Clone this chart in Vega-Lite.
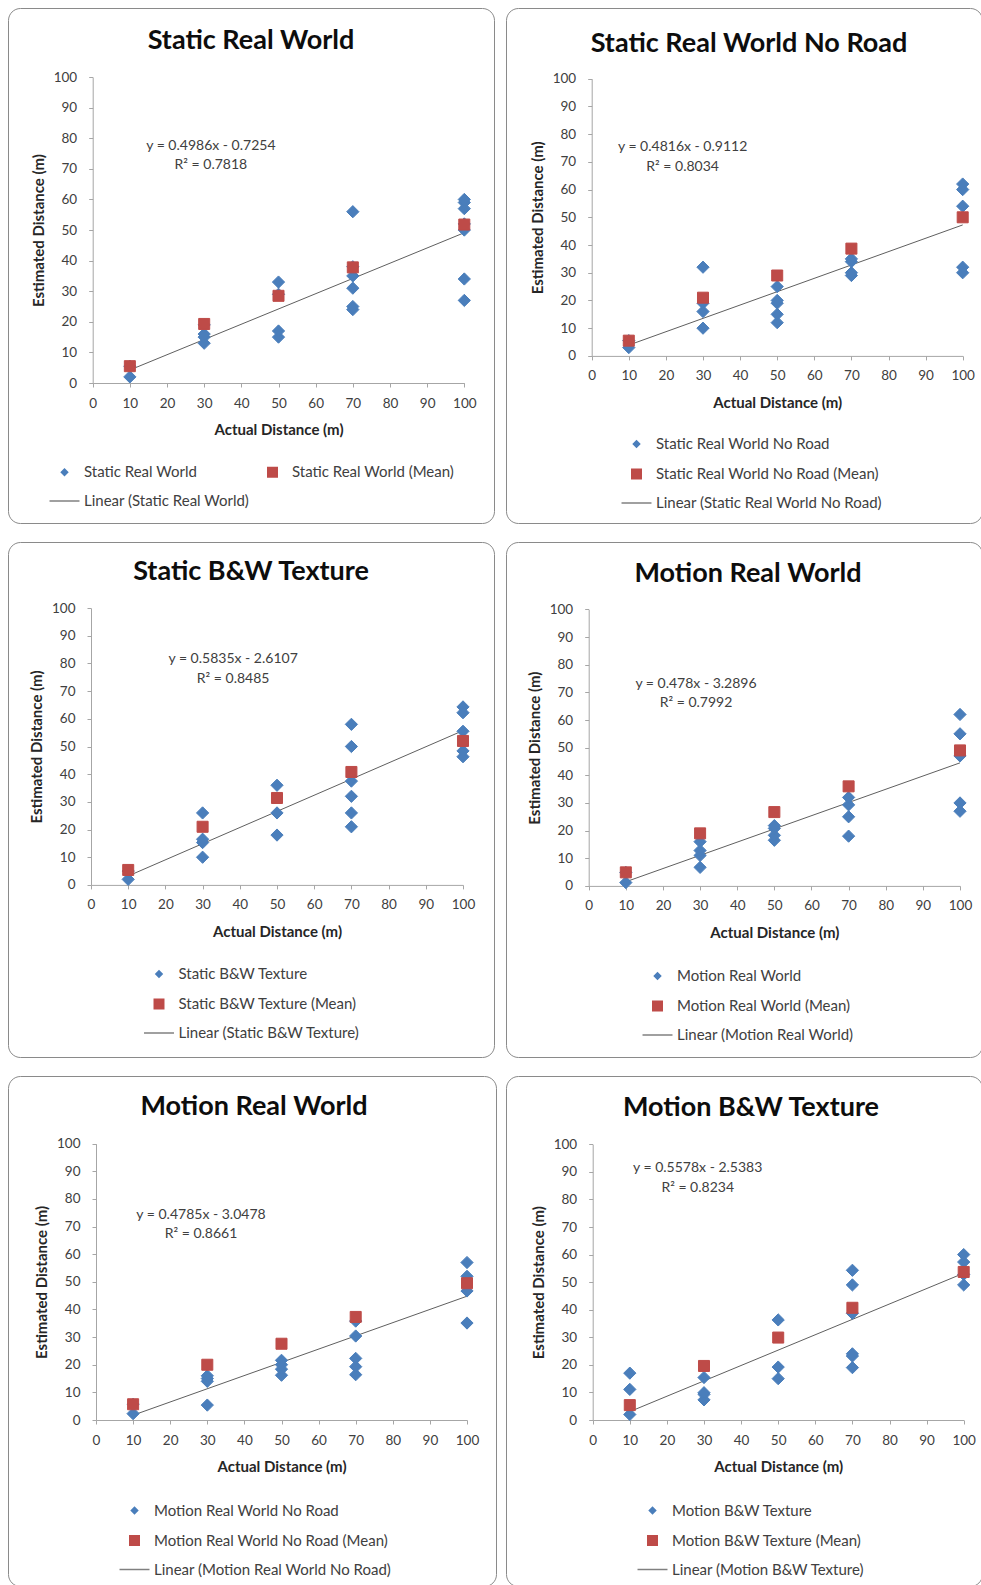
{
"$schema": "https://vega.github.io/schema/vega-lite/v6.json",
"background": "white",
"padding": {"left": 7, "top": 7, "right": 0, "bottom": 0},
"datasets": {
"o1": [{"x":10,"y":2,"s":"Static Real World"},{"x":10,"y":5.5,"s":"Static Real World"},{"x":30,"y":13,"s":"Static Real World"},{"x":30,"y":15,"s":"Static Real World"},{"x":30,"y":16,"s":"Static Real World"},{"x":30,"y":19,"s":"Static Real World"},{"x":50,"y":15,"s":"Static Real World"},{"x":50,"y":17,"s":"Static Real World"},{"x":50,"y":29,"s":"Static Real World"},{"x":50,"y":33,"s":"Static Real World"},{"x":70,"y":24,"s":"Static Real World"},{"x":70,"y":25,"s":"Static Real World"},{"x":70,"y":31,"s":"Static Real World"},{"x":70,"y":35,"s":"Static Real World"},{"x":70,"y":38,"s":"Static Real World"},{"x":70,"y":56,"s":"Static Real World"},{"x":100,"y":27,"s":"Static Real World"},{"x":100,"y":34,"s":"Static Real World"},{"x":100,"y":50,"s":"Static Real World"},{"x":100,"y":52,"s":"Static Real World"},{"x":100,"y":57,"s":"Static Real World"},{"x":100,"y":59,"s":"Static Real World"},{"x":100,"y":60,"s":"Static Real World"}],
"m1": [{"x":10,"y":5.5,"s":"Static Real World (Mean)"},{"x":30,"y":19.3,"s":"Static Real World (Mean)"},{"x":50,"y":28.5,"s":"Static Real World (Mean)"},{"x":70,"y":37.8,"s":"Static Real World (Mean)"},{"x":100,"y":51.8,"s":"Static Real World (Mean)"}],
"t1": [{"x":10,"y":4.26},{"x":100,"y":49.13}],
"e1": [{"x":31.8,"y":77.6,"t":"y = 0.4986x - 0.7254"},{"x":31.8,"y":71.3,"t":"R² = 0.7818"}],
"o2": [{"x":10,"y":3,"s":"Static Real World No Road"},{"x":10,"y":5.5,"s":"Static Real World No Road"},{"x":30,"y":10,"s":"Static Real World No Road"},{"x":30,"y":16,"s":"Static Real World No Road"},{"x":30,"y":19,"s":"Static Real World No Road"},{"x":30,"y":32,"s":"Static Real World No Road"},{"x":50,"y":12,"s":"Static Real World No Road"},{"x":50,"y":15,"s":"Static Real World No Road"},{"x":50,"y":19,"s":"Static Real World No Road"},{"x":50,"y":20,"s":"Static Real World No Road"},{"x":50,"y":25,"s":"Static Real World No Road"},{"x":70,"y":29,"s":"Static Real World No Road"},{"x":70,"y":30,"s":"Static Real World No Road"},{"x":70,"y":34,"s":"Static Real World No Road"},{"x":70,"y":35,"s":"Static Real World No Road"},{"x":100,"y":30,"s":"Static Real World No Road"},{"x":100,"y":32,"s":"Static Real World No Road"},{"x":100,"y":54,"s":"Static Real World No Road"},{"x":100,"y":60,"s":"Static Real World No Road"},{"x":100,"y":62,"s":"Static Real World No Road"}],
"m2": [{"x":10,"y":5.5,"s":"Static Real World No Road (Mean)"},{"x":30,"y":21,"s":"Static Real World No Road (Mean)"},{"x":50,"y":29,"s":"Static Real World No Road (Mean)"},{"x":70,"y":38.7,"s":"Static Real World No Road (Mean)"},{"x":100,"y":50,"s":"Static Real World No Road (Mean)"}],
"t2": [{"x":10,"y":3.9},{"x":100,"y":47.25}],
"e2": [{"x":24.5,"y":75.2,"t":"y = 0.4816x - 0.9112"},{"x":24.5,"y":68.3,"t":"R² = 0.8034"}],
"o3": [{"x":10,"y":2,"s":"Static B&W Texture"},{"x":10,"y":5,"s":"Static B&W Texture"},{"x":30,"y":10,"s":"Static B&W Texture"},{"x":30,"y":15.3,"s":"Static B&W Texture"},{"x":30,"y":16.5,"s":"Static B&W Texture"},{"x":30,"y":26,"s":"Static B&W Texture"},{"x":50,"y":18,"s":"Static B&W Texture"},{"x":50,"y":26,"s":"Static B&W Texture"},{"x":50,"y":36,"s":"Static B&W Texture"},{"x":70,"y":21,"s":"Static B&W Texture"},{"x":70,"y":26,"s":"Static B&W Texture"},{"x":70,"y":32,"s":"Static B&W Texture"},{"x":70,"y":37.5,"s":"Static B&W Texture"},{"x":70,"y":50,"s":"Static B&W Texture"},{"x":70,"y":58,"s":"Static B&W Texture"},{"x":100,"y":46.3,"s":"Static B&W Texture"},{"x":100,"y":48.4,"s":"Static B&W Texture"},{"x":100,"y":55.5,"s":"Static B&W Texture"},{"x":100,"y":62.2,"s":"Static B&W Texture"},{"x":100,"y":64.3,"s":"Static B&W Texture"}],
"m3": [{"x":10,"y":5.4,"s":"Static B&W Texture (Mean)"},{"x":30,"y":21,"s":"Static B&W Texture (Mean)"},{"x":50,"y":31.4,"s":"Static B&W Texture (Mean)"},{"x":70,"y":40.8,"s":"Static B&W Texture (Mean)"},{"x":100,"y":52,"s":"Static B&W Texture (Mean)"}],
"t3": [{"x":10,"y":3.22},{"x":100,"y":55.74}],
"e3": [{"x":38.2,"y":81.5,"t":"y = 0.5835x - 2.6107"},{"x":38.2,"y":74.5,"t":"R² = 0.8485"}],
"o4": [{"x":10,"y":1.2,"s":"Motion Real World"},{"x":10,"y":4.9,"s":"Motion Real World"},{"x":30,"y":6.7,"s":"Motion Real World"},{"x":30,"y":11,"s":"Motion Real World"},{"x":30,"y":12.8,"s":"Motion Real World"},{"x":30,"y":16,"s":"Motion Real World"},{"x":50,"y":16.5,"s":"Motion Real World"},{"x":50,"y":18.3,"s":"Motion Real World"},{"x":50,"y":20.8,"s":"Motion Real World"},{"x":50,"y":21.8,"s":"Motion Real World"},{"x":70,"y":18,"s":"Motion Real World"},{"x":70,"y":25,"s":"Motion Real World"},{"x":70,"y":29.3,"s":"Motion Real World"},{"x":70,"y":32,"s":"Motion Real World"},{"x":100,"y":27,"s":"Motion Real World"},{"x":100,"y":30,"s":"Motion Real World"},{"x":100,"y":47,"s":"Motion Real World"},{"x":100,"y":55,"s":"Motion Real World"},{"x":100,"y":62,"s":"Motion Real World"}],
"m4": [{"x":10,"y":4.9,"s":"Motion Real World (Mean)"},{"x":30,"y":19,"s":"Motion Real World (Mean)"},{"x":50,"y":26.7,"s":"Motion Real World (Mean)"},{"x":70,"y":36,"s":"Motion Real World (Mean)"},{"x":100,"y":49,"s":"Motion Real World (Mean)"}],
"t4": [{"x":10,"y":1.49},{"x":100,"y":44.51}],
"e4": [{"x":28.9,"y":73.1,"t":"y = 0.478x - 3.2896"},{"x":28.9,"y":66,"t":"R² = 0.7992"}],
"o5": [{"x":10,"y":2.3,"s":"Motion Real World No Road"},{"x":10,"y":5.7,"s":"Motion Real World No Road"},{"x":30,"y":5.4,"s":"Motion Real World No Road"},{"x":30,"y":14,"s":"Motion Real World No Road"},{"x":30,"y":15,"s":"Motion Real World No Road"},{"x":30,"y":16,"s":"Motion Real World No Road"},{"x":50,"y":16.2,"s":"Motion Real World No Road"},{"x":50,"y":18.4,"s":"Motion Real World No Road"},{"x":50,"y":20,"s":"Motion Real World No Road"},{"x":50,"y":21.6,"s":"Motion Real World No Road"},{"x":70,"y":16.4,"s":"Motion Real World No Road"},{"x":70,"y":19.3,"s":"Motion Real World No Road"},{"x":70,"y":22.3,"s":"Motion Real World No Road"},{"x":70,"y":30.4,"s":"Motion Real World No Road"},{"x":70,"y":35.8,"s":"Motion Real World No Road"},{"x":100,"y":35.1,"s":"Motion Real World No Road"},{"x":100,"y":46.7,"s":"Motion Real World No Road"},{"x":100,"y":52,"s":"Motion Real World No Road"},{"x":100,"y":57,"s":"Motion Real World No Road"}],
"m5": [{"x":10,"y":5.7,"s":"Motion Real World No Road (Mean)"},{"x":30,"y":20,"s":"Motion Real World No Road (Mean)"},{"x":50,"y":27.6,"s":"Motion Real World No Road (Mean)"},{"x":70,"y":37.3,"s":"Motion Real World No Road (Mean)"},{"x":100,"y":49.5,"s":"Motion Real World No Road (Mean)"}],
"t5": [{"x":10,"y":1.74},{"x":100,"y":44.8}],
"e5": [{"x":28.3,"y":74.2,"t":"y = 0.4785x - 3.0478"},{"x":28.3,"y":67.2,"t":"R² = 0.8661"}],
"o6": [{"x":10,"y":2,"s":"Motion B&W Texture"},{"x":10,"y":11.1,"s":"Motion B&W Texture"},{"x":10,"y":17,"s":"Motion B&W Texture"},{"x":30,"y":7.3,"s":"Motion B&W Texture"},{"x":30,"y":9.3,"s":"Motion B&W Texture"},{"x":30,"y":9.9,"s":"Motion B&W Texture"},{"x":30,"y":15.4,"s":"Motion B&W Texture"},{"x":50,"y":15,"s":"Motion B&W Texture"},{"x":50,"y":19.2,"s":"Motion B&W Texture"},{"x":50,"y":36.3,"s":"Motion B&W Texture"},{"x":70,"y":19,"s":"Motion B&W Texture"},{"x":70,"y":23.2,"s":"Motion B&W Texture"},{"x":70,"y":24,"s":"Motion B&W Texture"},{"x":70,"y":38.7,"s":"Motion B&W Texture"},{"x":70,"y":49,"s":"Motion B&W Texture"},{"x":70,"y":54.3,"s":"Motion B&W Texture"},{"x":100,"y":49,"s":"Motion B&W Texture"},{"x":100,"y":52.8,"s":"Motion B&W Texture"},{"x":100,"y":57.3,"s":"Motion B&W Texture"},{"x":100,"y":60,"s":"Motion B&W Texture"}],
"m6": [{"x":10,"y":5.4,"s":"Motion B&W Texture (Mean)"},{"x":30,"y":19.6,"s":"Motion B&W Texture (Mean)"},{"x":50,"y":29.9,"s":"Motion B&W Texture (Mean)"},{"x":70,"y":40.7,"s":"Motion B&W Texture (Mean)"},{"x":100,"y":53.7,"s":"Motion B&W Texture (Mean)"}],
"t6": [{"x":10,"y":3.04},{"x":100,"y":53.24}],
"e6": [{"x":28.3,"y":91.3,"t":"y = 0.5578x - 2.5383"},{"x":28.3,"y":84.3,"t":"R² = 0.8234"}]
},
"concat": [
{"width":486,"height":515,
"title":{"text":"Static Real World","offset":-47},
"encoding":{
"x":{"field":"x","type":"quantitative","scale":{"domain":[0,100],"range":[84.7,456.3],"nice":false,"zero":false},"axis":{"values":[0,10,20,30,40,50,60,70,80,90,100],"offset":-140,"title":"Actual Distance (m)"}},
"y":{"field":"y","type":"quantitative","scale":{"domain":[0,100],"range":[375,69.1],"nice":false,"zero":false},"axis":{"values":[0,10,20,30,40,50,60,70,80,90,100],"offset":-84.7,"title":"Estimated Distance (m)"}}},
"layer":[
{"data":{"name":"t1"},"mark":{"type":"line","color":"#5f5f5f","strokeWidth":1}},
{"data":{"name":"o1"},"mark":{"type":"point","filled":true,"opacity":1,"size":150,"strokeWidth":1},"encoding":{
"fill":{"field":"s","type":"nominal","scale":{"domain":["Static Real World","Static Real World (Mean)","Linear (Static Real World)"],"range":["#4a7ebb","#be4b48","#808080"]},"legend":{"orient":"none","legendX":49,"legendY":456.5,"columns":2,"direction":"horizontal","columnPadding":14,"title":null}},
"stroke":{"field":"s","type":"nominal","scale":{"domain":["Static Real World","Static Real World (Mean)","Linear (Static Real World)"],"range":["#4a7ebb","#be4b48","#808080"]},"legend":{"orient":"none","legendX":49,"legendY":456.5,"columns":2,"direction":"horizontal","columnPadding":14,"title":null}},
"shape":{"field":"s","type":"nominal","scale":{"domain":["Static Real World","Static Real World (Mean)","Linear (Static Real World)"],"range":["diamond","M-1.5,-1.5H1.5V1.5H-1.5Z","M-4.74,0H4.74"]},"legend":{"orient":"none","legendX":49,"legendY":456.5,"columns":2,"direction":"horizontal","columnPadding":14,"title":null}}}},
{"data":{"name":"m1"},"mark":{"type":"point","filled":true,"opacity":1,"size":54,"strokeWidth":1},"encoding":{
"fill":{"field":"s","type":"nominal","scale":{"domain":["Static Real World","Static Real World (Mean)","Linear (Static Real World)"],"range":["#4a7ebb","#be4b48","#808080"]},"legend":{"orient":"none","legendX":49,"legendY":456.5,"columns":2,"direction":"horizontal","columnPadding":14,"title":null}},
"stroke":{"field":"s","type":"nominal","scale":{"domain":["Static Real World","Static Real World (Mean)","Linear (Static Real World)"],"range":["#4a7ebb","#be4b48","#808080"]},"legend":{"orient":"none","legendX":49,"legendY":456.5,"columns":2,"direction":"horizontal","columnPadding":14,"title":null}},
"shape":{"field":"s","type":"nominal","scale":{"domain":["Static Real World","Static Real World (Mean)","Linear (Static Real World)"],"range":["diamond","M-1.5,-1.5H1.5V1.5H-1.5Z","M-4.74,0H4.74"]},"legend":{"orient":"none","legendX":49,"legendY":456.5,"columns":2,"direction":"horizontal","columnPadding":14,"title":null}}}},
{"data":{"name":"e1"},"mark":{"type":"text","fontSize":14,"color":"#404040","baseline":"middle"},"encoding":{"text":{"field":"t"}}}
]},
{"width":476,"height":515,
"title":{"text":"Static Real World No Road","offset":-50,"dx":5},
"encoding":{
"x":{"field":"x","type":"quantitative","scale":{"domain":[0,100],"range":[85.7,456.7],"nice":false,"zero":false},"axis":{"values":[0,10,20,30,40,50,60,70,80,90,100],"offset":-167.1,"title":"Actual Distance (m)"}},
"y":{"field":"y","type":"quantitative","scale":{"domain":[0,100],"range":[347.9,70.7],"nice":false,"zero":false},"axis":{"values":[0,10,20,30,40,50,60,70,80,90,100],"offset":-85.7,"title":"Estimated Distance (m)"}}},
"layer":[
{"data":{"name":"t2"},"mark":{"type":"line","color":"#5f5f5f","strokeWidth":1}},
{"data":{"name":"o2"},"mark":{"type":"point","filled":true,"opacity":1,"size":150,"strokeWidth":1},"encoding":{
"fill":{"field":"s","type":"nominal","scale":{"domain":["Static Real World No Road","Static Real World No Road (Mean)","Linear (Static Real World No Road)"],"range":["#4a7ebb","#be4b48","#808080"]},"legend":{"orient":"none","legendX":123,"legendY":428.5,"columns":1,"title":null}},
"stroke":{"field":"s","type":"nominal","scale":{"domain":["Static Real World No Road","Static Real World No Road (Mean)","Linear (Static Real World No Road)"],"range":["#4a7ebb","#be4b48","#808080"]},"legend":{"orient":"none","legendX":123,"legendY":428.5,"columns":1,"title":null}},
"shape":{"field":"s","type":"nominal","scale":{"domain":["Static Real World No Road","Static Real World No Road (Mean)","Linear (Static Real World No Road)"],"range":["diamond","M-1.5,-1.5H1.5V1.5H-1.5Z","M-4.74,0H4.74"]},"legend":{"orient":"none","legendX":123,"legendY":428.5,"columns":1,"title":null}}}},
{"data":{"name":"m2"},"mark":{"type":"point","filled":true,"opacity":1,"size":54,"strokeWidth":1},"encoding":{
"fill":{"field":"s","type":"nominal","scale":{"domain":["Static Real World No Road","Static Real World No Road (Mean)","Linear (Static Real World No Road)"],"range":["#4a7ebb","#be4b48","#808080"]},"legend":{"orient":"none","legendX":123,"legendY":428.5,"columns":1,"title":null}},
"stroke":{"field":"s","type":"nominal","scale":{"domain":["Static Real World No Road","Static Real World No Road (Mean)","Linear (Static Real World No Road)"],"range":["#4a7ebb","#be4b48","#808080"]},"legend":{"orient":"none","legendX":123,"legendY":428.5,"columns":1,"title":null}},
"shape":{"field":"s","type":"nominal","scale":{"domain":["Static Real World No Road","Static Real World No Road (Mean)","Linear (Static Real World No Road)"],"range":["diamond","M-1.5,-1.5H1.5V1.5H-1.5Z","M-4.74,0H4.74"]},"legend":{"orient":"none","legendX":123,"legendY":428.5,"columns":1,"title":null}}}},
{"data":{"name":"e2"},"mark":{"type":"text","fontSize":14,"color":"#404040","baseline":"middle"},"encoding":{"text":{"field":"t"}}}
]},
{"width":486,"height":515,
"title":{"text":"Static B&W Texture","offset":-44},
"encoding":{
"x":{"field":"x","type":"quantitative","scale":{"domain":[0,100],"range":[83,455],"nice":false,"zero":false},"axis":{"values":[0,10,20,30,40,50,60,70,80,90,100],"offset":-172.1,"title":"Actual Distance (m)"}},
"y":{"field":"y","type":"quantitative","scale":{"domain":[0,100],"range":[342.9,66.1],"nice":false,"zero":false},"axis":{"values":[0,10,20,30,40,50,60,70,80,90,100],"offset":-83,"title":"Estimated Distance (m)"}}},
"layer":[
{"data":{"name":"t3"},"mark":{"type":"line","color":"#5f5f5f","strokeWidth":1}},
{"data":{"name":"o3"},"mark":{"type":"point","filled":true,"opacity":1,"size":150,"strokeWidth":1},"encoding":{
"fill":{"field":"s","type":"nominal","scale":{"domain":["Static B&W Texture","Static B&W Texture (Mean)","Linear (Static B&W Texture)"],"range":["#4a7ebb","#be4b48","#808080"]},"legend":{"orient":"none","legendX":143.5,"legendY":424.5,"columns":1,"title":null}},
"stroke":{"field":"s","type":"nominal","scale":{"domain":["Static B&W Texture","Static B&W Texture (Mean)","Linear (Static B&W Texture)"],"range":["#4a7ebb","#be4b48","#808080"]},"legend":{"orient":"none","legendX":143.5,"legendY":424.5,"columns":1,"title":null}},
"shape":{"field":"s","type":"nominal","scale":{"domain":["Static B&W Texture","Static B&W Texture (Mean)","Linear (Static B&W Texture)"],"range":["diamond","M-1.5,-1.5H1.5V1.5H-1.5Z","M-4.74,0H4.74"]},"legend":{"orient":"none","legendX":143.5,"legendY":424.5,"columns":1,"title":null}}}},
{"data":{"name":"m3"},"mark":{"type":"point","filled":true,"opacity":1,"size":54,"strokeWidth":1},"encoding":{
"fill":{"field":"s","type":"nominal","scale":{"domain":["Static B&W Texture","Static B&W Texture (Mean)","Linear (Static B&W Texture)"],"range":["#4a7ebb","#be4b48","#808080"]},"legend":{"orient":"none","legendX":143.5,"legendY":424.5,"columns":1,"title":null}},
"stroke":{"field":"s","type":"nominal","scale":{"domain":["Static B&W Texture","Static B&W Texture (Mean)","Linear (Static B&W Texture)"],"range":["#4a7ebb","#be4b48","#808080"]},"legend":{"orient":"none","legendX":143.5,"legendY":424.5,"columns":1,"title":null}},
"shape":{"field":"s","type":"nominal","scale":{"domain":["Static B&W Texture","Static B&W Texture (Mean)","Linear (Static B&W Texture)"],"range":["diamond","M-1.5,-1.5H1.5V1.5H-1.5Z","M-4.74,0H4.74"]},"legend":{"orient":"none","legendX":143.5,"legendY":424.5,"columns":1,"title":null}}}},
{"data":{"name":"e3"},"mark":{"type":"text","fontSize":14,"color":"#404040","baseline":"middle"},"encoding":{"text":{"field":"t"}}}
]},
{"width":476,"height":515,
"title":{"text":"Motion Real World","offset":-46,"dx":4},
"encoding":{
"x":{"field":"x","type":"quantitative","scale":{"domain":[0,100],"range":[82.7,454],"nice":false,"zero":false},"axis":{"values":[0,10,20,30,40,50,60,70,80,90,100],"offset":-171.1,"title":"Actual Distance (m)"}},
"y":{"field":"y","type":"quantitative","scale":{"domain":[0,100],"range":[343.9,67.4],"nice":false,"zero":false},"axis":{"values":[0,10,20,30,40,50,60,70,80,90,100],"offset":-82.7,"title":"Estimated Distance (m)"}}},
"layer":[
{"data":{"name":"t4"},"mark":{"type":"line","color":"#5f5f5f","strokeWidth":1}},
{"data":{"name":"o4"},"mark":{"type":"point","filled":true,"opacity":1,"size":150,"strokeWidth":1},"encoding":{
"fill":{"field":"s","type":"nominal","scale":{"domain":["Motion Real World","Motion Real World (Mean)","Linear (Motion Real World)"],"range":["#4a7ebb","#be4b48","#808080"]},"legend":{"orient":"none","legendX":144,"legendY":426.5,"columns":1,"title":null}},
"stroke":{"field":"s","type":"nominal","scale":{"domain":["Motion Real World","Motion Real World (Mean)","Linear (Motion Real World)"],"range":["#4a7ebb","#be4b48","#808080"]},"legend":{"orient":"none","legendX":144,"legendY":426.5,"columns":1,"title":null}},
"shape":{"field":"s","type":"nominal","scale":{"domain":["Motion Real World","Motion Real World (Mean)","Linear (Motion Real World)"],"range":["diamond","M-1.5,-1.5H1.5V1.5H-1.5Z","M-4.74,0H4.74"]},"legend":{"orient":"none","legendX":144,"legendY":426.5,"columns":1,"title":null}}}},
{"data":{"name":"m4"},"mark":{"type":"point","filled":true,"opacity":1,"size":54,"strokeWidth":1},"encoding":{
"fill":{"field":"s","type":"nominal","scale":{"domain":["Motion Real World","Motion Real World (Mean)","Linear (Motion Real World)"],"range":["#4a7ebb","#be4b48","#808080"]},"legend":{"orient":"none","legendX":144,"legendY":426.5,"columns":1,"title":null}},
"stroke":{"field":"s","type":"nominal","scale":{"domain":["Motion Real World","Motion Real World (Mean)","Linear (Motion Real World)"],"range":["#4a7ebb","#be4b48","#808080"]},"legend":{"orient":"none","legendX":144,"legendY":426.5,"columns":1,"title":null}},
"shape":{"field":"s","type":"nominal","scale":{"domain":["Motion Real World","Motion Real World (Mean)","Linear (Motion Real World)"],"range":["diamond","M-1.5,-1.5H1.5V1.5H-1.5Z","M-4.74,0H4.74"]},"legend":{"orient":"none","legendX":144,"legendY":426.5,"columns":1,"title":null}}}},
{"data":{"name":"e4"},"mark":{"type":"text","fontSize":14,"color":"#404040","baseline":"middle"},"encoding":{"text":{"field":"t"}}}
]},
{"width":488,"height":510,
"title":{"text":"Motion Real World","offset":-45,"dx":2},
"encoding":{
"x":{"field":"x","type":"quantitative","scale":{"domain":[0,100],"range":[88,459],"nice":false,"zero":false},"axis":{"values":[0,10,20,30,40,50,60,70,80,90,100],"offset":-166,"title":"Actual Distance (m)"}},
"y":{"field":"y","type":"quantitative","scale":{"domain":[0,100],"range":[344,67.7],"nice":false,"zero":false},"axis":{"values":[0,10,20,30,40,50,60,70,80,90,100],"offset":-88,"title":"Estimated Distance (m)"}}},
"layer":[
{"data":{"name":"t5"},"mark":{"type":"line","color":"#5f5f5f","strokeWidth":1}},
{"data":{"name":"o5"},"mark":{"type":"point","filled":true,"opacity":1,"size":150,"strokeWidth":1},"encoding":{
"fill":{"field":"s","type":"nominal","scale":{"domain":["Motion Real World No Road","Motion Real World No Road (Mean)","Linear (Motion Real World No Road)"],"range":["#4a7ebb","#be4b48","#808080"]},"legend":{"orient":"none","legendX":119,"legendY":427,"columns":1,"title":null}},
"stroke":{"field":"s","type":"nominal","scale":{"domain":["Motion Real World No Road","Motion Real World No Road (Mean)","Linear (Motion Real World No Road)"],"range":["#4a7ebb","#be4b48","#808080"]},"legend":{"orient":"none","legendX":119,"legendY":427,"columns":1,"title":null}},
"shape":{"field":"s","type":"nominal","scale":{"domain":["Motion Real World No Road","Motion Real World No Road (Mean)","Linear (Motion Real World No Road)"],"range":["diamond","M-1.5,-1.5H1.5V1.5H-1.5Z","M-4.74,0H4.74"]},"legend":{"orient":"none","legendX":119,"legendY":427,"columns":1,"title":null}}}},
{"data":{"name":"m5"},"mark":{"type":"point","filled":true,"opacity":1,"size":54,"strokeWidth":1},"encoding":{
"fill":{"field":"s","type":"nominal","scale":{"domain":["Motion Real World No Road","Motion Real World No Road (Mean)","Linear (Motion Real World No Road)"],"range":["#4a7ebb","#be4b48","#808080"]},"legend":{"orient":"none","legendX":119,"legendY":427,"columns":1,"title":null}},
"stroke":{"field":"s","type":"nominal","scale":{"domain":["Motion Real World No Road","Motion Real World No Road (Mean)","Linear (Motion Real World No Road)"],"range":["#4a7ebb","#be4b48","#808080"]},"legend":{"orient":"none","legendX":119,"legendY":427,"columns":1,"title":null}},
"shape":{"field":"s","type":"nominal","scale":{"domain":["Motion Real World No Road","Motion Real World No Road (Mean)","Linear (Motion Real World No Road)"],"range":["diamond","M-1.5,-1.5H1.5V1.5H-1.5Z","M-4.74,0H4.74"]},"legend":{"orient":"none","legendX":119,"legendY":427,"columns":1,"title":null}}}},
{"data":{"name":"e5"},"mark":{"type":"text","fontSize":14,"color":"#404040","baseline":"middle"},"encoding":{"text":{"field":"t"}}}
]},
{"width":476,"height":510,
"title":{"text":"Motion B&W Texture","offset":-46,"dx":7},
"encoding":{
"x":{"field":"x","type":"quantitative","scale":{"domain":[0,100],"range":[86.7,457.7],"nice":false,"zero":false},"axis":{"values":[0,10,20,30,40,50,60,70,80,90,100],"offset":-166,"title":"Actual Distance (m)"}},
"y":{"field":"y","type":"quantitative","scale":{"domain":[0,100],"range":[344,68.3],"nice":false,"zero":false},"axis":{"values":[0,10,20,30,40,50,60,70,80,90,100],"offset":-86.7,"title":"Estimated Distance (m)"}}},
"layer":[
{"data":{"name":"t6"},"mark":{"type":"line","color":"#5f5f5f","strokeWidth":1}},
{"data":{"name":"o6"},"mark":{"type":"point","filled":true,"opacity":1,"size":150,"strokeWidth":1},"encoding":{
"fill":{"field":"s","type":"nominal","scale":{"domain":["Motion B&W Texture","Motion B&W Texture (Mean)","Linear (Motion B&W Texture)"],"range":["#4a7ebb","#be4b48","#808080"]},"legend":{"orient":"none","legendX":139,"legendY":427,"columns":1,"title":null}},
"stroke":{"field":"s","type":"nominal","scale":{"domain":["Motion B&W Texture","Motion B&W Texture (Mean)","Linear (Motion B&W Texture)"],"range":["#4a7ebb","#be4b48","#808080"]},"legend":{"orient":"none","legendX":139,"legendY":427,"columns":1,"title":null}},
"shape":{"field":"s","type":"nominal","scale":{"domain":["Motion B&W Texture","Motion B&W Texture (Mean)","Linear (Motion B&W Texture)"],"range":["diamond","M-1.5,-1.5H1.5V1.5H-1.5Z","M-4.74,0H4.74"]},"legend":{"orient":"none","legendX":139,"legendY":427,"columns":1,"title":null}}}},
{"data":{"name":"m6"},"mark":{"type":"point","filled":true,"opacity":1,"size":54,"strokeWidth":1},"encoding":{
"fill":{"field":"s","type":"nominal","scale":{"domain":["Motion B&W Texture","Motion B&W Texture (Mean)","Linear (Motion B&W Texture)"],"range":["#4a7ebb","#be4b48","#808080"]},"legend":{"orient":"none","legendX":139,"legendY":427,"columns":1,"title":null}},
"stroke":{"field":"s","type":"nominal","scale":{"domain":["Motion B&W Texture","Motion B&W Texture (Mean)","Linear (Motion B&W Texture)"],"range":["#4a7ebb","#be4b48","#808080"]},"legend":{"orient":"none","legendX":139,"legendY":427,"columns":1,"title":null}},
"shape":{"field":"s","type":"nominal","scale":{"domain":["Motion B&W Texture","Motion B&W Texture (Mean)","Linear (Motion B&W Texture)"],"range":["diamond","M-1.5,-1.5H1.5V1.5H-1.5Z","M-4.74,0H4.74"]},"legend":{"orient":"none","legendX":139,"legendY":427,"columns":1,"title":null}}}},
{"data":{"name":"e6"},"mark":{"type":"text","fontSize":14,"color":"#404040","baseline":"middle"},"encoding":{"text":{"field":"t"}}}
]}
],
"columns": 2,
"spacing": {"row": 19, "column": 10},
"bounds": "flush",
"resolve": {"scale": {"fill":"independent","stroke":"independent","shape":"independent"}},
"config": {
"font": "Lato",
"view": {"stroke": "#8a8a8a", "strokeWidth": 1, "cornerRadius": 12, "fill": "white"},
"axis": {"grid": false, "domainColor": "#a6a6a6", "tickColor": "#a6a6a6", "tickSize": 4, "labelColor": "#404040", "labelFontSize": 13.5, "labelPadding": 9, "titleColor": "#262626", "titleFontSize": 15, "titleFontWeight": "bold", "labelFlush": false, "labelOverlap": false},
"axisX": {"titlePadding": 13},
"axisY": {"titlePadding": 7, "labelPadding": 12},
"legend": {"labelFontSize": 15, "labelColor": "#404040", "symbolSize": 40, "labelOffset": 12, "rowPadding": 13, "columnPadding": 16, "padding": 0, "labelLimit": 400},
"title": {"fontSize": 27, "fontWeight": "bold", "color": "#0d0d0d", "anchor": "middle", "baseline": "middle"}
}
}
